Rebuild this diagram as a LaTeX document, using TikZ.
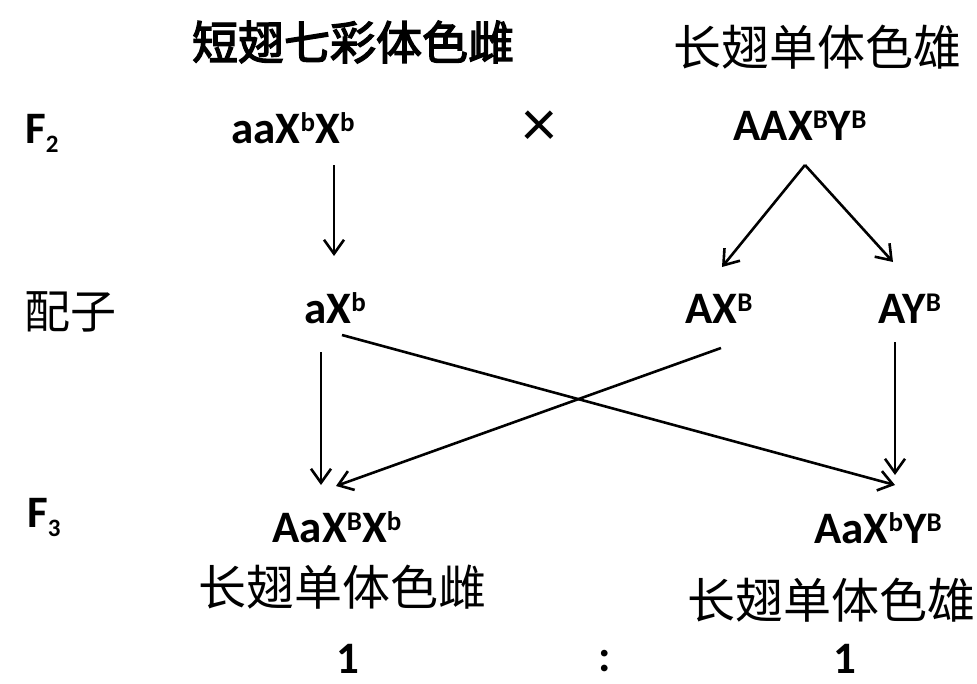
\documentclass[tikz,border=0pt]{standalone}
\usepackage{fontspec}
\setmainfont{Carlito}
\newfontfamily\cjk{Noto Sans CJK SC}
\newfontfamily\cjkb[FakeBold=3]{Noto Sans CJK SC}
\usetikzlibrary{arrows.meta,calc}
\newcommand{\upx}[1]{\raisebox{12pt}{\fontsize{27}{27}\selectfont #1}}
\newcommand{\dnx}[1]{\raisebox{-9pt}{\fontsize{25}{25}\selectfont #1}}
\begin{document}
\begin{tikzpicture}[x=1pt,y=-1pt,
  lat/.style={font=\fontsize{45}{50}\selectfont\bfseries, inner sep=0pt, anchor=base},
  han/.style={font=\cjk\fontsize{48}{52}\selectfont, inner sep=0pt},
  arr/.style={line width=2.6pt, -{Straight Barb[length=14pt,width=20pt,line width=2.6pt]}}]
\useasboundingbox[fill=white] (0,0) rectangle (977,683);
\node[han,font=\cjkb\fontsize{46}{50}\selectfont] (t1) at (353,42) {短翅七彩体色雌};
\node[han] (t2) at (817,47) {长翅单体色雄};
\node[lat,anchor=base west] (f2) at (25,143) {F\dnx{2}};
\node[lat] (p1) at (293,143) {aaX\upx{b}X\upx{b}};
\node[inner sep=0pt, font=\fontsize{68}{68}\selectfont] (cross) at (539,129) {×};
\node[lat] (p2) at (800,140) {AAX\upx{B}Y\upx{B}};
\node[han, font=\cjk\fontsize{46}{50}\selectfont] (pz) at (70,312) {配子};
\node[lat] (g1) at (335,323) {aX\upx{b}};
\node[lat] (g2) at (719,323) {AX\upx{B}};
\node[lat] (g3) at (910,323) {AY\upx{B}};
\node[lat,anchor=base west] (f3) at (27,527) {F\dnx{3}};
\node[lat] (o1) at (337,542) {AaX\upx{B}X\upx{b}};
\node[lat] (o2) at (878,543) {AaX\upx{b}Y\upx{B}};
\node[han] (c1) at (342,587) {长翅单体色雌};
\node[han] (c2) at (831,600) {长翅单体色雄};
\node[lat] (r1) at (348,673) {1};
\node[lat] (rc) at (605,671) {:};
\node[lat] (r2) at (845,673) {1};
\draw[arr] ($(p1.base)+(41,22)$) -- ($(g1.base)+(-1,-67)$);
\draw[arr] ($(p2.base)+(5,25)$) -- ($(g2.base)+(3,-56)$);
\draw[arr] ($(p2.base)+(5,25)$) -- ($(g3.base)+(-17,-61)$);
\draw[arr] ($(g1.base)+(-14,29)$) -- ($(o1.base)+(-16,-57)$);
\draw[arr] ($(g1.base)+(7,12)$) -- ($(o2.base)+(17,-58)$);
\draw[arr] ($(g2.base)+(2,25)$) -- ($(o1.base)+(-1,-56)$);
\draw[arr] ($(g3.base)+(-15,19)$) -- ($(o2.base)+(17,-68)$);
\end{tikzpicture}
\end{document}
